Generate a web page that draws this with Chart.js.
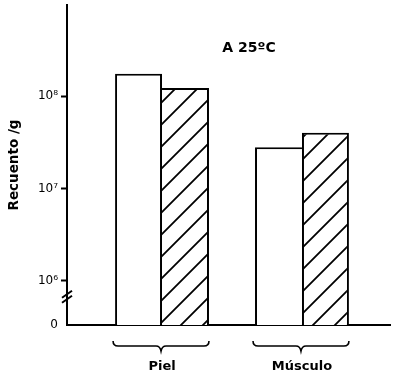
<!DOCTYPE html>
<html><head><meta charset="utf-8">
<script src="https://cdn.jsdelivr.net/npm/chart.js@4.4.1/dist/chart.umd.min.js"></script>
<style>html,body{margin:0;padding:0;background:#fff}#wrap{width:400px;height:380px}</style>
</head><body><div id="wrap"><canvas id="c" width="400" height="380"></canvas></div>
<script>
const categories = ['Piel', 'Músculo'];
const openValues = [1.74e8, 2.8e7];
const hatchedValues = [1.22e8, 4.0e7];
const yTickValues = [1e6, 1e7, 1e8];
const yTickLabels = ['10⁶', '10⁷', '10⁸'];
const zeroLabel = '0';
const yMinLog = 5.524;
const yMaxLog = 8.984;
const breakValue = Math.pow(10, 5.83);
const chartTitle = 'A 25ºC';
const yTitle = 'Recuento /g';

function makeHatch() {
  const s = 22;
  const c = document.createElement('canvas');
  c.width = s; c.height = s;
  const g = c.getContext('2d');
  g.fillStyle = '#fff'; g.fillRect(0, 0, s, s);
  g.strokeStyle = '#000'; g.lineWidth = 1.8;
  g.beginPath();
  g.moveTo(-2, s + 2); g.lineTo(s + 2, -2);
  g.moveTo(-2, 2); g.lineTo(2, -2);
  g.moveTo(s - 2, s + 2); g.lineTo(s + 2, s - 2);
  g.stroke();
  return g.createPattern(c, 'repeat');
}

const yMin = Math.pow(10, yMinLog);
const yMax = Math.pow(10, yMaxLog);

const decorations = {
  id: 'decorations',
  afterDraw(chart) {
    const ctx = chart.ctx;
    const xs = chart.scales.x, ys = chart.scales.y;
    const area = chart.chartArea;
    ctx.save();
    ctx.fillStyle = '#000';
    ctx.font = 'bold 14px "DejaVu Sans"';
    ctx.textAlign = 'center';
    ctx.textBaseline = 'middle';
    ctx.fillText(chartTitle, area.left + 182, area.top + 43);
    ctx.strokeStyle = '#000';
    ctx.lineWidth = 1.6;
    const unit = xs.getPixelForValue(2) - xs.getPixelForValue(1);
    const hw = unit * 0.671 / 2 + 1;
    categories.forEach((c, i) => {
      const cx = xs.getPixelForValue(i + 1) - 1;
      const yb = area.bottom + 21;
      ctx.beginPath();
      ctx.moveTo(cx - hw, yb - 5);
      ctx.quadraticCurveTo(cx - hw, yb, cx - hw + 5, yb);
      ctx.lineTo(cx - 5, yb);
      ctx.quadraticCurveTo(cx - 1, yb, cx, yb + 5);
      ctx.quadraticCurveTo(cx + 1, yb, cx + 5, yb);
      ctx.lineTo(cx + hw - 5, yb);
      ctx.quadraticCurveTo(cx + hw, yb, cx + hw, yb - 5);
      ctx.stroke();
    });
    const by = ys.getPixelForValue(breakValue);
    const bx = area.left;
    ctx.lineWidth = 2;
    ctx.beginPath();
    ctx.moveTo(bx - 5, by + 1); ctx.lineTo(bx + 5, by - 6);
    ctx.moveTo(bx - 5, by + 6); ctx.lineTo(bx + 5, by - 1);
    ctx.stroke();
    ctx.restore();
  }
};

const openBorder = ctx => {
  const i = ctx.dataIndex;
  return openValues[i] >= hatchedValues[i]
    ? { top: 2, left: 2, right: 2, bottom: 0 }
    : { top: 2, left: 2, right: 0, bottom: 0 };
};
const hatchBorder = ctx => {
  const i = ctx.dataIndex;
  return openValues[i] >= hatchedValues[i]
    ? { top: 2, left: 0, right: 2, bottom: 0 }
    : { top: 2, left: 2, right: 2, bottom: 0 };
};

new Chart(document.getElementById('c'), {
  type: 'bar',
  data: {
    datasets: [
      {
        data: openValues.map((v, i) => ({ x: i + 1, y: v })),
        backgroundColor: '#ffffff',
        borderColor: '#000000',
        borderWidth: openBorder,
        borderSkipped: false
      },
      {
        data: hatchedValues.map((v, i) => ({ x: i + 1, y: v })),
        backgroundColor: makeHatch(),
        borderColor: '#000000',
        borderWidth: hatchBorder,
        borderSkipped: false
      }
    ]
  },
  options: {
    responsive: false,
    maintainAspectRatio: false,
    animation: false,
    devicePixelRatio: 1,
    layout: { padding: { top: 5, right: 10, left: 0, bottom: 0 } },
    datasets: { bar: { categoryPercentage: 0.671, barPercentage: 1.0 } },
    plugins: { legend: { display: false }, tooltip: { enabled: false } },
    scales: {
      x: {
        type: 'linear',
        min: 0.321,
        max: 2.629,
        offset: false,
        afterBuildTicks: s => { s.ticks = categories.map((c, i) => ({ value: i + 1 })); },
        afterFit: s => { s.height = 55; s.paddingLeft = 0; s.paddingRight = 0; },
        ticks: {
          callback: v => categories[Math.round(v) - 1] || '',
          padding: 34,
          color: '#000',
          font: { family: 'DejaVu Sans', size: 13, weight: 'bold' },
          maxRotation: 0
        },
        grid: { display: false, drawTicks: false },
        border: { display: true, color: '#000', width: 2 }
      },
      y: {
        type: 'logarithmic',
        min: yMin,
        max: yMax,
        afterBuildTicks: s => { s.ticks = [yMin].concat(yTickValues).map(v => ({ value: v })); },
        afterFit: s => { s.width = 67; s.paddingTop = 0; s.paddingBottom = 0; },
        ticks: {
          callback: (v) => {
            const i = yTickValues.indexOf(v);
            return i >= 0 ? yTickLabels[i] : zeroLabel;
          },
          padding: 3,
          color: '#000',
          font: { family: 'DejaVu Sans', size: 12 }
        },
        grid: {
          drawOnChartArea: false,
          tickLength: 6,
          tickWidth: 2,
          color: ctx => (ctx.tick && ctx.tick.value === yMin) ? 'rgba(0,0,0,0)' : '#000'
        },
        border: { display: true, color: '#000', width: 2 },
        title: {
          display: true,
          text: yTitle,
          color: '#000',
          font: { family: 'DejaVu Sans', size: 13.5, weight: 'bold' },
          padding: { top: 6, bottom: 0 }
        }
      }
    }
  },
  plugins: [decorations]
});
</script>
</body></html>
